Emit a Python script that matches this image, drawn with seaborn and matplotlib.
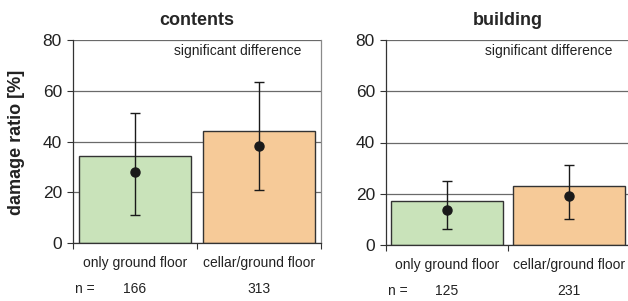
import numpy as np
import pandas as pd
import matplotlib
matplotlib.use("Agg")
import matplotlib.pyplot as plt
import seaborn as sns
from matplotlib.ticker import FixedLocator

# data
categories = ["only ground floor", "cellar/ground floor"]
panels = ["contents", "building"]
bar_values = {"contents": [34.3, 44.1], "building": [17.3, 23.0]}
point_values = {"contents": [28.0, 38.2], "building": [13.7, 19.1]}
err_low = {"contents": [11.0, 20.9], "building": [6.2, 10.1]}
err_high = {"contents": [51.2, 63.4], "building": [25.1, 31.3]}
counts = {"contents": [166, 313], "building": [125, 231]}
y_ticks = [0, 20, 40, 60, 80]
note = "significant difference"

colors = ["#c9e3ba", "#f6ca98"]

sns.set_style("white")
plt.rcParams["font.family"] = ["Liberation Sans", "DejaVu Sans"]

fig = plt.figure(figsize=(6.28, 3.01), dpi=100)
axes_pos = {
    "contents": [73 / 628, 1 - 243 / 301, 248 / 628, 203 / 301],
    "building": [386 / 628, 1 - 245 / 301, 244 / 628, 205 / 301],
}

for name in panels:
    ax = fig.add_axes(axes_pos[name])
    df = pd.DataFrame({"cat": categories, "val": bar_values[name]})
    sns.barplot(data=df, x="cat", y="val", hue="cat", palette=colors,
                saturation=1, width=0.91, edgecolor="#333333", linewidth=1.0,
                legend=False, ax=ax, zorder=2)
    pts = np.array(point_values[name])
    lo = pts - np.array(err_low[name])
    hi = np.array(err_high[name]) - pts
    ax.errorbar(range(len(categories)), pts, yerr=[lo, hi], fmt="o",
                color="#1a1a1a", ecolor="#1a1a1a", markersize=6.5,
                elinewidth=1.0, capsize=3.5, capthick=1.0, zorder=3)

    ax.set_ylim(0, 80)
    ax.set_xlim(-0.5, 1.5)
    ax.set_yticks(y_ticks)
    ax.set_yticklabels([str(t) for t in y_ticks], fontsize=12.5)
    ax.yaxis.grid(True, color="#6a6a6a", linewidth=0.9, zorder=0)
    ax.set_axisbelow(True)
    ax.tick_params(axis="y", direction="out", length=4, width=0.8,
                   color="#333333", pad=4, left=True, labelcolor="#222222")

    ax.set_xticks(range(len(categories)))
    ax.set_xticklabels(categories, fontsize=10)
    ax.tick_params(axis="x", which="major", length=0, pad=9,
                   labelcolor="#222222")
    ax.xaxis.set_minor_locator(FixedLocator([-0.5, 0.5, 1.5]))
    ax.tick_params(axis="x", which="minor", direction="out", length=4,
                   width=0.8, color="#333333", bottom=True)
    ax.set_xlabel("")
    ax.set_ylabel("")

    for side in ["left", "bottom"]:
        ax.spines[side].set_color("#333333")
        ax.spines[side].set_linewidth(0.9)
    ax.spines["top"].set_visible(False)
    ax.spines["right"].set_color("#8a8a8a")
    ax.spines["right"].set_linewidth(0.9)

    ax.set_title(name, fontsize=13, fontweight="bold", pad=11)
    ax.text(0.665, 0.945, note, transform=ax.transAxes, ha="center",
            va="center", fontsize=10, color="#222222")

    # sample sizes under the category labels
    ax.text(-0.48, -0.225, "n =", transform=ax.get_xaxis_transform(),
            ha="left", va="center", fontsize=10, clip_on=False,
            color="#222222")
    for i, n in enumerate(counts[name]):
        ax.text(i, -0.225, str(n), transform=ax.get_xaxis_transform(),
                ha="center", va="center", fontsize=10, clip_on=False,
                color="#222222")

fig.text(17 / 628, 1 - 142 / 301, "damage ratio [%]", rotation=90,
         ha="center", va="center", fontsize=13, fontweight="bold",
         color="#222222")

fig.savefig("out.png", dpi=100)
